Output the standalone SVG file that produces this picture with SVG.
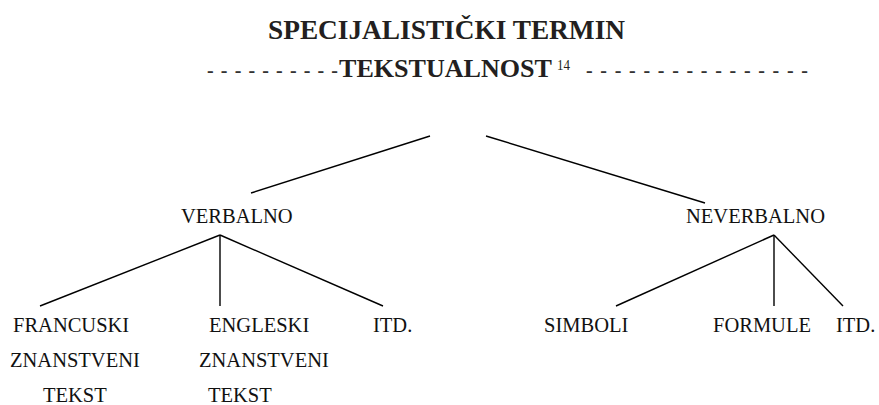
<svg xmlns="http://www.w3.org/2000/svg" width="879" height="405" viewBox="0 0 879 405">
<style>
line{stroke:#000;stroke-width:1.4}
</style>
<rect width="879" height="405" fill="#fff"/>
<g id="root" fill="#231f20">
<text x="268" y="39" font-size="27.3" font-weight="bold" textLength="357" lengthAdjust="spacingAndGlyphs" style="font-family:'Liberation Serif',serif">SPECIJALISTIČKI TERMIN</text>
<text x="207" y="77" font-size="20" font-weight="bold" fill="#333" textLength="131" lengthAdjust="spacing" style="font-family:'Liberation Serif',serif">- - - - - - - - - -</text>
<text x="339" y="77" font-size="25.5" font-weight="bold" textLength="213" lengthAdjust="spacingAndGlyphs" style="font-family:'Liberation Serif',serif">TEKSTUALNOST</text>
<text x="557" y="70" font-size="14" textLength="13" lengthAdjust="spacingAndGlyphs" style="font-family:'Liberation Serif',serif">14</text>
<text x="586" y="77" font-size="20" font-weight="bold" fill="#333" textLength="222" lengthAdjust="spacing" style="font-family:'Liberation Serif',serif">- - - - - - - - - - - - - - - -</text>
</g>
<g id="connectors">
<line x1="430" y1="136" x2="251" y2="193"/>
<line x1="486" y1="136" x2="705" y2="203"/>
<line x1="220" y1="235" x2="40" y2="306"/>
<line x1="220" y1="235" x2="220" y2="306"/>
<line x1="220" y1="235" x2="383" y2="306"/>
<line x1="774" y1="235" x2="616" y2="306"/>
<line x1="774" y1="235" x2="774" y2="306"/>
<line x1="774" y1="235" x2="843" y2="306"/>
</g>
<g font-size="20.5" fill="#111">
<g id="verbalno"><text x="181" y="223" style="font-family:'Liberation Serif',serif">VERBALNO</text></g>
<g id="neverbalno"><text x="686" y="223" style="font-family:'Liberation Serif',serif">NEVERBALNO</text></g>
<g id="francuski">
<text x="13" y="332" style="font-family:'Liberation Serif',serif">FRANCUSKI</text>
<text x="10" y="367" style="font-family:'Liberation Serif',serif">ZNANSTVENI</text>
<text x="43" y="402" style="font-family:'Liberation Serif',serif">TEKST</text>
</g>
<g id="engleski">
<text x="209" y="332" style="font-family:'Liberation Serif',serif">ENGLESKI</text>
<text x="199" y="367" style="font-family:'Liberation Serif',serif">ZNANSTVENI</text>
<text x="208" y="402" style="font-family:'Liberation Serif',serif">TEKST</text>
</g>
<g id="itd-verbalno"><text x="373" y="332" style="font-family:'Liberation Serif',serif">ITD.</text></g>
<g id="simboli"><text x="544" y="332" style="font-family:'Liberation Serif',serif">SIMBOLI</text></g>
<g id="formule"><text x="713" y="332" style="font-family:'Liberation Serif',serif">FORMULE</text></g>
<g id="itd-neverbalno"><text x="836" y="332" style="font-family:'Liberation Serif',serif">ITD.</text></g>
</g>
</svg>
